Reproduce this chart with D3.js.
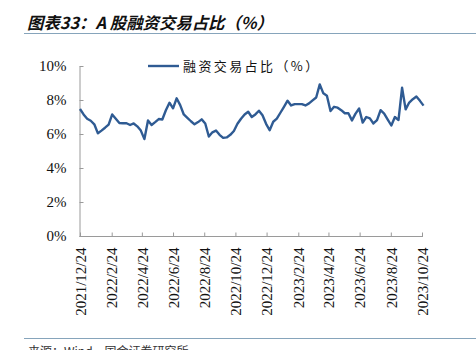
<!DOCTYPE html>
<html>
<head>
<meta charset="utf-8">
<script src="https://cdn.jsdelivr.net/npm/d3@7/dist/d3.min.js"></script>
<style>
  html, body { margin: 0; padding: 0; background: #fff; }
  svg { display: block; }
  .serif { font-family: "Liberation Serif", "DejaVu Serif", "Times New Roman", serif; }
</style>
</head>
<body>
<svg id="chart" width="476" height="350"></svg>
<script>
// Weekly share of margin-financing turnover in total A-share turnover (%)
const seriesName = "融资交易占比（%）";
const firstWeek = "2021-12-24";
const marginShare = [
  7.47, 7.15, 6.90, 6.78, 6.57, 6.04, 6.20, 6.37, 6.55, 7.15,
  6.90, 6.65, 6.63, 6.63, 6.53, 6.62, 6.45, 6.20, 5.70, 6.80,
  6.53, 6.70, 6.88, 6.85, 7.40, 7.84, 7.51, 8.10, 7.70, 7.15,
  6.95, 6.75, 6.57, 6.70, 6.86, 6.62, 5.85, 6.10, 6.20, 5.95,
  5.77, 5.80, 5.95, 6.18, 6.60, 6.90, 7.15, 7.31, 7.00, 7.15,
  7.37, 7.10, 6.60, 6.22, 6.72, 6.90, 7.25, 7.60, 7.96, 7.68,
  7.76, 7.76, 7.76, 7.68, 7.80, 7.98, 8.15, 8.92, 8.39, 8.25,
  7.35, 7.60, 7.55, 7.40, 7.22, 7.22, 6.80, 7.20, 7.50, 6.67,
  7.00, 6.92, 6.62, 6.82, 7.40, 7.20, 6.85, 6.50, 7.00, 6.82,
  8.72, 7.45, 7.85, 8.05, 8.20, 7.95, 7.67
];
const xTickLabels = [
  "2021/12/24", "2022/2/24", "2022/4/24", "2022/6/24", "2022/8/24", "2022/10/24",
  "2022/12/24", "2023/2/24", "2023/4/24", "2023/6/24", "2023/8/24", "2023/10/24"
];
const yTickValues = [0, 2, 4, 6, 8, 10];

const parseDay = d3.timeParse("%Y-%m-%d");
const parseLabel = d3.timeParse("%Y/%m/%d");
const start = parseDay(firstWeek);
const points = marginShare.map((v, i) => ({ date: d3.timeDay.offset(start, i * 7), value: v }));
const tickDates = xTickLabels.map(parseLabel);

const svg = d3.select("#chart");
const cjk = "'Noto Sans CJK SC', sans-serif";
const axisColor = "#9a9a9a";
const lineColor = "#2f5b93";

// Header: title and rule
svg.append("text")
  .attr("x", 27).attr("y", 29)
  .style("font-family", cjk)
  .style("font-size", "16.4px")
  .style("font-weight", "bold")
  .style("font-style", "italic")
  .attr("fill", "#111")
  .text("图表33：A 股融资交易占比（%）");

svg.append("line")
  .attr("x1", 24).attr("x2", 476)
  .attr("y1", 33.5).attr("y2", 33.5)
  .attr("stroke", "#86a4bb").attr("stroke-width", 1.2);

// Footer rule and source line
svg.append("line")
  .attr("x1", 24).attr("x2", 476)
  .attr("y1", 338.5).attr("y2", 338.5)
  .attr("stroke", "#86a4bb").attr("stroke-width", 1.2);

svg.append("text")
  .attr("x", 28).attr("y", 356)
  .style("font-family", cjk)
  .style("font-size", "12px")
  .attr("fill", "#333")
  .text("来源：Wind，国金证券研究所");

// Scales
const x = d3.scaleTime()
  .domain([tickDates[0], tickDates[tickDates.length - 1]])
  .range([80, 422]);
const y = d3.scaleLinear().domain([0, 10]).range([236, 66]);

// Y axis (ticks pointing into the plot)
const yAxis = svg.append("g")
  .attr("transform", "translate(79.5,0)")
  .call(d3.axisLeft(y).tickValues(yTickValues).tickSizeInner(-4).tickSizeOuter(0)
    .tickFormat(d => d + "%"));
yAxis.attr("font-family", null).attr("font-size", null);
yAxis.select(".domain").attr("stroke", axisColor);
yAxis.selectAll(".tick line").attr("stroke", axisColor);
yAxis.selectAll(".tick text")
  .classed("serif", true)
  .attr("x", -13)
  .style("font-size", "15px")
  .attr("fill", "#111");

// X axis (ticks pointing up, labels rotated)
const xAxis = svg.append("g")
  .attr("transform", "translate(0,236.5)")
  .call(d3.axisBottom(x).tickValues(tickDates).tickSizeInner(-4).tickSizeOuter(0)
    .tickFormat((d, i) => xTickLabels[i]));
xAxis.attr("font-family", null).attr("font-size", null);
xAxis.select(".domain").attr("stroke", axisColor).attr("d", "M79.5,0H423");
xAxis.selectAll(".tick line").attr("stroke", axisColor);
xAxis.selectAll(".tick text")
  .classed("serif", true)
  .style("font-size", "15px")
  .attr("fill", "#111")
  .attr("text-anchor", "end")
  .attr("transform", "rotate(-90)")
  .attr("x", -11)
  .attr("y", 0)
  .attr("dy", "0.35em");

// Series line
const line = d3.line()
  .x(d => x(d.date))
  .y(d => y(d.value));

svg.append("path")
  .datum(points)
  .attr("fill", "none")
  .attr("stroke", lineColor)
  .attr("stroke-width", 2.4)
  .attr("stroke-linejoin", "round")
  .attr("d", line);

// Legend
svg.append("line")
  .attr("x1", 148).attr("x2", 179)
  .attr("y1", 66).attr("y2", 66)
  .attr("stroke", lineColor).attr("stroke-width", 2.4);

svg.append("text")
  .attr("x", 183).attr("y", 70.5)
  .style("font-family", cjk)
  .style("font-size", "13px")
  .attr("letter-spacing", 2.4)
  .attr("fill", "#111")
  .text(seriesName);
</script>
</body>
</html>
